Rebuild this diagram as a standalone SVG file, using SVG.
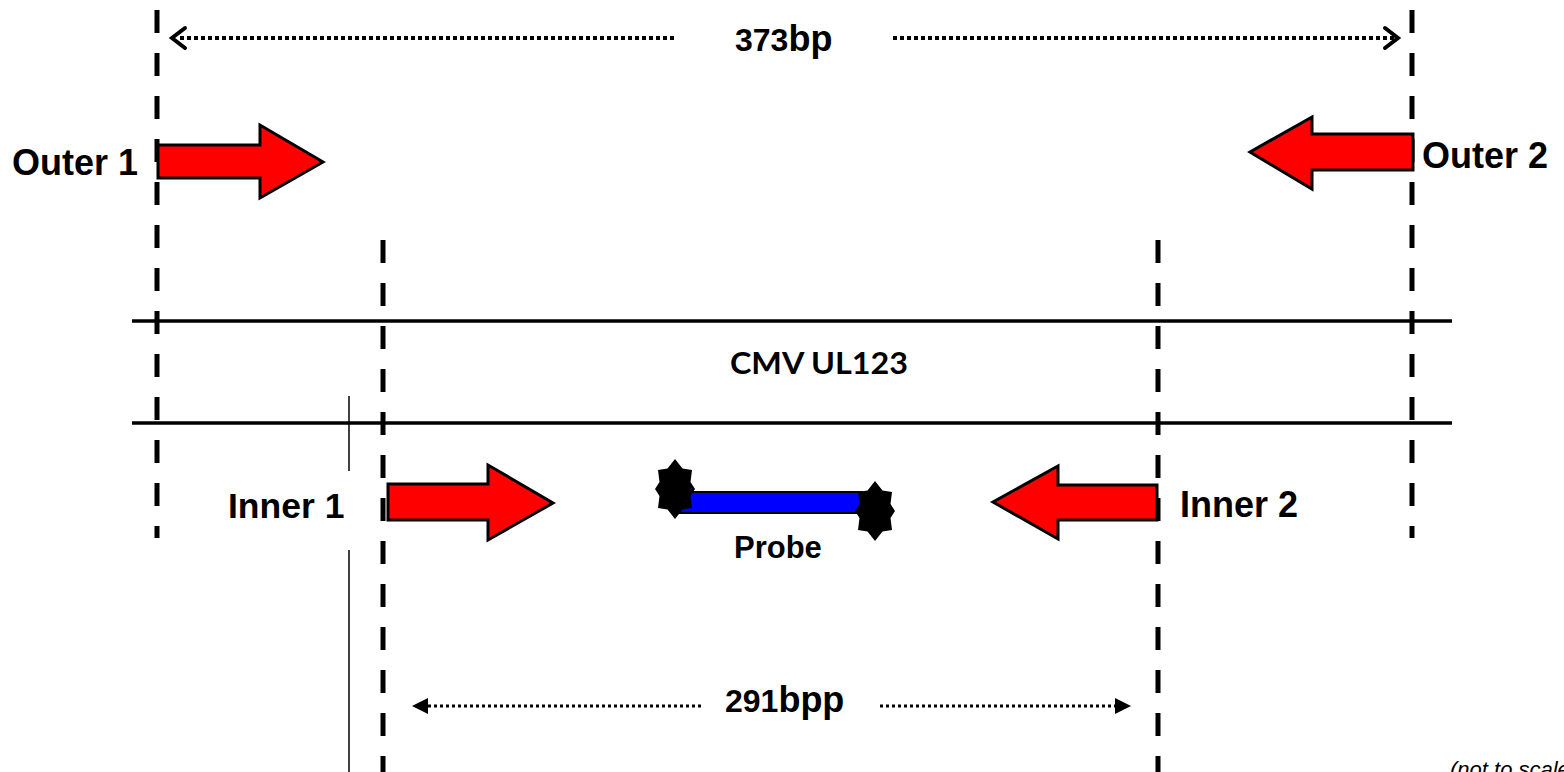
<svg xmlns="http://www.w3.org/2000/svg" width="1564" height="772" viewBox="0 0 1564 772">
<style>
.dash{stroke:#000;stroke-width:5;stroke-dasharray:23 20;fill:none}
.hline{stroke:#000;stroke-width:3.5;fill:none}
.arrow{fill:#ff0000;stroke:#000;stroke-width:3;stroke-linejoin:miter}
.lbl{font-family:"Liberation Sans",Arial,sans-serif;font-weight:bold;fill:#000}
.dot1{stroke:#000;stroke-width:4;stroke-dasharray:4 3;fill:none}
.dot2{stroke:#000;stroke-width:3;stroke-dasharray:3 3;fill:none}
.chev{stroke:#000;stroke-width:4;fill:none;stroke-linecap:round;stroke-linejoin:miter}
.star{fill:#000}
</style>
<defs>
<polygon id="starShape" points="0,-30 7.5,-20.5 17,-19 15.5,-7 20,0 15.5,7 17,19 7.5,20.5 0,30 -7.5,20.5 -17,19 -15.5,7 -20,0 -15.5,-7 -17,-19 -7.5,-20.5"/>
</defs>
<rect width="1564" height="772" fill="#fff"/>
<g id="guides">
<line class="dash" x1="157" y1="10" x2="157" y2="538"/>
<line class="dash" x1="1412" y1="10" x2="1412" y2="538"/>
<line class="dash" x1="383" y1="240" x2="383" y2="772"/>
<line class="dash" x1="1158" y1="240" x2="1158" y2="772"/>
<line stroke="#000" stroke-width="1.5" x1="349" y1="396" x2="349" y2="471"/>
<line stroke="#000" stroke-width="1.5" x1="349" y1="550" x2="349" y2="772"/>
</g>
<g id="gene">
<line class="hline" x1="132" y1="321" x2="1452" y2="321"/>
<line class="hline" x1="132" y1="423" x2="1452" y2="423"/>
<text x="730" y="374" font-family="Lato,'Open Sans',sans-serif" font-weight="bold" font-size="30" textLength="178" lengthAdjust="spacingAndGlyphs">CMV UL123</text>
</g>
<g id="connectors">
<g id="dim373">
<line class="dot1" x1="180" y1="38" x2="676" y2="38"/>
<line class="dot1" x1="893" y1="38" x2="1394" y2="38"/>
<polyline class="chev" points="185,28 172,38 185,48"/>
<polyline class="chev" points="1385,28 1398,38 1385,48"/>
</g>
<g id="dim291">
<line class="dot2" x1="428" y1="706" x2="701" y2="706"/>
<line class="dot2" x1="880" y1="706" x2="1116" y2="706"/>
<polygon points="412,706 428,698 428,714" fill="#000"/>
<polygon points="1131,706 1115,698 1115,714" fill="#000"/>
</g>
</g>
<g id="label373">
<text class="lbl" x="735" y="51"><tspan font-size="32">373</tspan><tspan font-size="36">bp</tspan></text>
</g>
<g id="label291">
<text class="lbl" x="725" y="712"><tspan font-size="32">291</tspan><tspan font-size="36">bpp</tspan></text>
</g>
<g id="outer1">
<polygon class="arrow" points="158,145 260,145 260,125 323,162 260,198 260,178 158,178"/>
<text class="lbl" x="12" y="175" font-size="36">Outer 1</text>
</g>
<g id="outer2">
<polygon class="arrow" points="1413,134 1312,134 1312,117 1250,152 1312,189 1312,170 1413,170"/>
<text class="lbl" x="1422" y="168" font-size="36">Outer 2</text>
</g>
<g id="inner1">
<polygon class="arrow" points="388,484 488,484 488,465 553,503 488,540 488,520 388,520"/>
<text class="lbl" x="228" y="518" font-size="35.5">Inner 1</text>
</g>
<g id="inner2">
<polygon class="arrow" points="1157,485 1058,485 1058,466 993,502 1058,539 1058,520 1157,520"/>
<text class="lbl" x="1180" y="517" font-size="36">Inner 2</text>
</g>
<g id="probe">
<rect x="680" y="492" width="182" height="21" fill="#0000ff" stroke="#000" stroke-width="2"/>
<use href="#starShape" class="star" transform="translate(675,489)"/>
<use href="#starShape" class="star" transform="translate(875,511)"/>
<text class="lbl" x="734" y="558" font-size="31">Probe</text>
</g>
<g id="note">
<text x="1450" y="777" font-family="'Liberation Sans',Arial,sans-serif" font-style="italic" font-size="22">(not to scale)</text>
</g>
</svg>
